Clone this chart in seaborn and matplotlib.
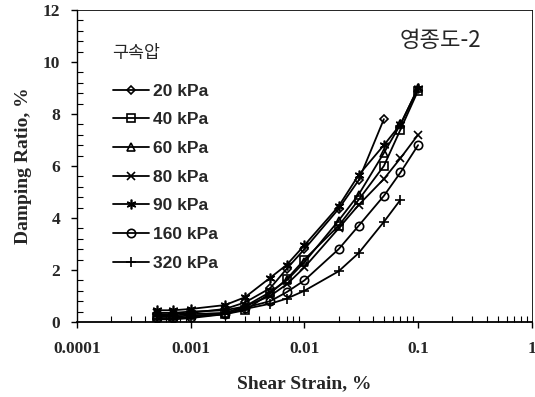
import numpy as np
import pandas as pd
import matplotlib
matplotlib.use("Agg")
import matplotlib.pyplot as plt
import seaborn as sns
from matplotlib.ticker import FixedLocator, FixedFormatter, MultipleLocator, LogLocator, NullFormatter

# strain levels (%)
strain = [0.0005, 0.0007, 0.001, 0.002, 0.003, 0.005, 0.007, 0.01, 0.02, 0.03, 0.05, 0.07, 0.1]

# damping ratio (%) per confining pressure
d20 = [0.30, 0.30, 0.35, 0.50, 0.75, 1.30, 2.05, 2.80, 4.35, 5.45, 7.80]
d40 = [0.20, 0.20, 0.25, 0.30, 0.45, 1.10, 1.65, 2.40, 3.70, 4.70, 6.00, 7.40, 8.90]
d60 = [0.25, 0.25, 0.30, 0.35, 0.60, 1.15, 1.60, 2.30, 3.90, 4.90, 6.50, 7.60, 9.00]
d80 = [0.35, 0.35, 0.40, 0.45, 0.60, 1.00, 1.45, 2.10, 3.60, 4.50, 5.50, 6.30, 7.20]
d90 = [0.45, 0.45, 0.50, 0.65, 0.95, 1.70, 2.20, 2.95, 4.45, 5.65, 6.80, 7.60, 9.00]
d160 = [0.15, 0.15, 0.20, 0.30, 0.55, 0.80, 1.15, 1.60, 2.80, 3.70, 4.85, 5.75, 6.80]
d320 = [0.10, 0.10, 0.15, 0.30, 0.50, 0.70, 0.90, 1.20, 1.95, 2.65, 3.85, 4.70]

labels = ["20 kPa", "40 kPa", "60 kPa", "80 kPa", "90 kPa", "160 kPa", "320 kPa"]
series = [d20, d40, d60, d80, d90, d160, d320]
markers = ["D", "s", "^", "x", (6, 2, 0), "o", "+"]
msizes = [4, 5.5, 5.5, 6, 7, 6, 7]

rows = []
for lab, vals in zip(labels, series):
    for s, v in zip(strain, vals):
        rows.append((lab, s, v))
df = pd.DataFrame(rows, columns=["pressure", "strain", "damping"])

sns.set_style("ticks")
plt.rcParams['font.family'] = ['Liberation Serif', 'Noto Sans CJK KR']

fig = plt.figure(figsize=(5.35, 3.97), dpi=100)
ax = fig.add_axes([0.144, 0.189, 0.85, 0.786])

for lab, m, ms in zip(labels, markers, msizes):
    sub = df[df["pressure"] == lab]
    sns.lineplot(data=sub, x="strain", y="damping", ax=ax, color="black",
                 marker=m, markersize=ms, mfc="none", mec="black", mew=1.2,
                 lw=1.3, label=lab)

ax.set_xscale("log")
ax.set_xlim(1e-4, 1)
ax.set_ylim(0, 12)
ax.xaxis.set_major_locator(FixedLocator([1e-4, 1e-3, 1e-2, 1e-1, 1]))
ax.xaxis.set_major_formatter(FixedFormatter(["0.0001", "0.001", "0.01", "0.1", "1"]))
ax.xaxis.set_minor_locator(LogLocator(base=10, subs=np.arange(2, 10)))
ax.xaxis.set_minor_formatter(NullFormatter())
ax.yaxis.set_major_locator(MultipleLocator(2))
ax.yaxis.set_minor_locator(MultipleLocator(0.4))

ax.tick_params(which="major", direction="out", length=4, width=1, color="black")
ax.tick_params(which="minor", direction="in", length=4, width=0.8, color="black",
               bottom=True, left=True)
for t in ax.get_xticklabels():
    t.set_fontsize(12.5)
    t.set_fontweight("bold")
for t in ax.get_yticklabels():
    t.set_fontsize(12.5)
    t.set_fontweight("bold")
ax.tick_params(axis="x", which="major", pad=10)
ax.tick_params(axis="y", which="major", pad=8)

for sp in ax.spines.values():
    sp.set_color("black")
ax.spines["bottom"].set_linewidth(1.3)
ax.spines["left"].set_linewidth(1.0)
ax.spines["top"].set_linewidth(0.6)
ax.spines["right"].set_linewidth(0.6)

ax.set_xlabel("Shear Strain, %", fontsize=14, fontweight="bold", labelpad=13)
ax.set_ylabel("Damping Ratio, %", fontsize=14, fontweight="bold", labelpad=8)

leg = ax.legend(loc="upper left", bbox_to_anchor=(0.079, 0.764), frameon=False,
                prop={"family": ["Liberation Sans"], "weight": "bold", "size": 12.5},
                handlelength=2.1, handletextpad=0.2, labelspacing=0.78,
                borderpad=0, borderaxespad=0)

ax.text(0.077, 0.862, "구속압", transform=ax.transAxes, fontsize=12.5,
        family=["Noto Sans CJK KR"], weight="medium", va="center", ha="left")
ax.text(0.71, 0.902, "영종도-2", transform=ax.transAxes, fontsize=16,
        family=["Noto Sans CJK KR", "DejaVu Sans"], va="center", ha="left")

fig.savefig("out.png", dpi=100)
